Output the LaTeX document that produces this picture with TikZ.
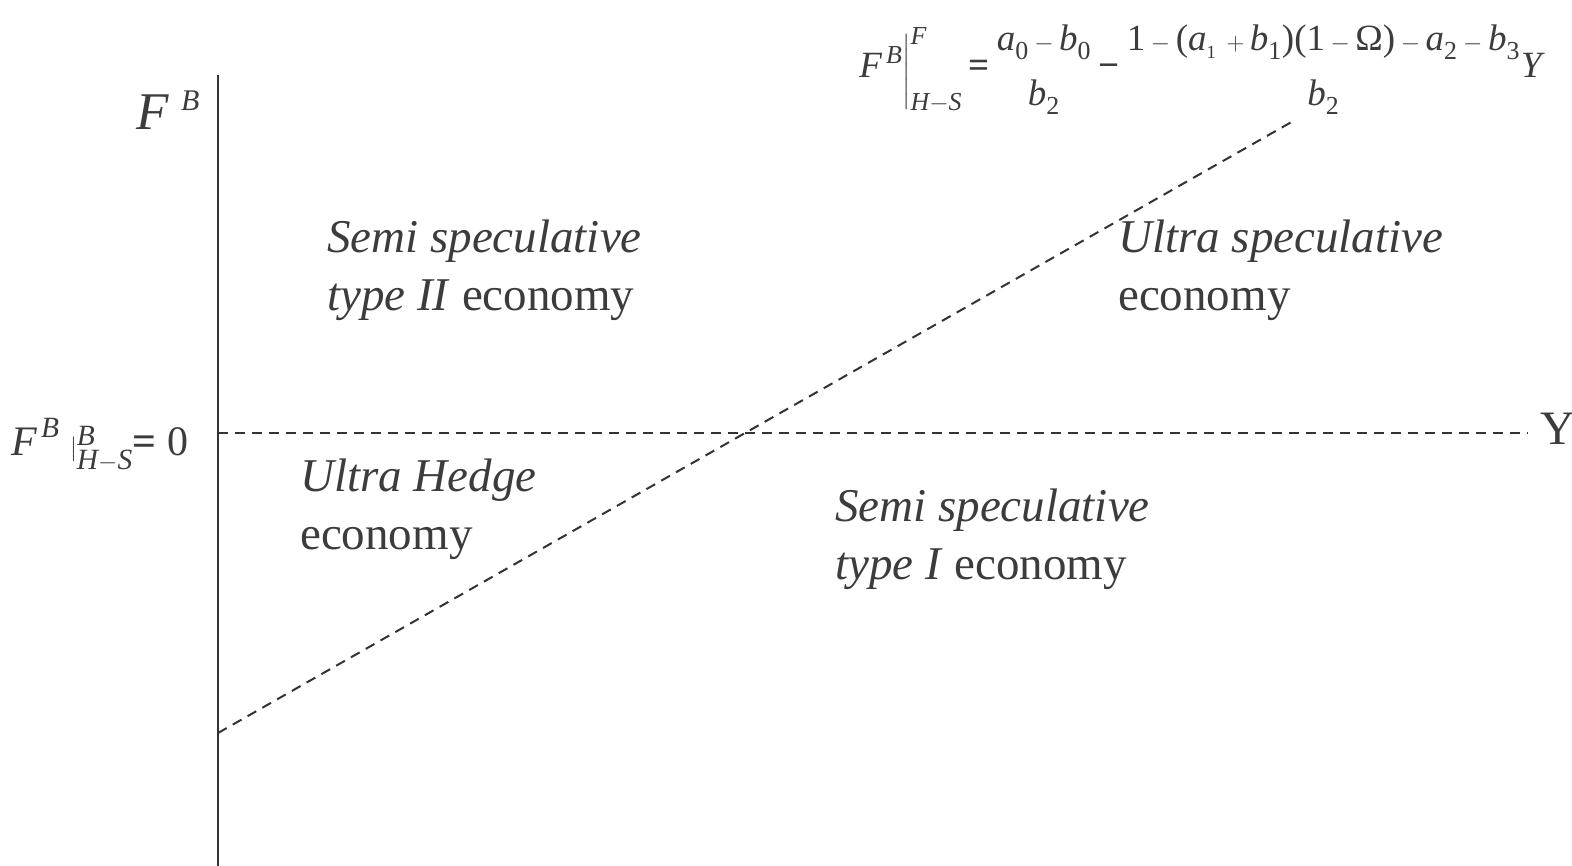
\documentclass[tikz,border=0pt]{standalone}
\usepackage{amsmath}
\usepackage{fontspec}
\setmainfont{Liberation Serif}
\newcommand\mi[1]{\textit{#1}}
\newcommand\tx[1]{\text{#1}}
\newcommand\nbfrac[2]{\genfrac{}{}{0pt}{0}{#1}{\rule{0pt}{39pt}#2}}
\definecolor{ink}{HTML}{333333}
\definecolor{txt}{HTML}{3C3C3C}
\tikzset{
  axis/.style={draw=ink, line width=2.6pt},
  dashln/.style={draw=ink, line width=2pt, dash pattern=on 10pt off 7pt},
  region/.style={text=txt, font=\fontsize{47}{57.5}\selectfont, align=left, anchor=north west, inner sep=0pt},
  lbl/.style={text=txt, inner sep=0pt},
}
\begin{document}
\begin{tikzpicture}[x=1pt,y=-1pt]
\useasboundingbox (0,0) rectangle (1572,866);
% axes
\coordinate (top) at (218,75);
\coordinate (bot) at (218,866);
\draw[axis] (top) -- (bot);
\coordinate (h0) at (218,433);
\coordinate (h1) at (1528,433);
\draw[dashln] (h0) -- (h1);
\coordinate (d0) at (218,733);
\coordinate (d1) at (1295,120);
\draw[dashln] (d0) -- (d1);
% labels
\node[lbl, font=\fontsize{53}{55}\selectfont, anchor=base west] (fb) at (136,130)
  {\mi{F}\kern12pt\raisebox{19pt}{\fontsize{30}{30}\selectfont\mi{B}}};
\node[lbl, font=\fontsize{42}{44}\selectfont, anchor=base east] (fz) at (189,455)
  {$\mi{F}^{\,\mi{B}}\ |^{\mi{B}}_{\mi{H}-\mi{S}}\tx{\bfseries=}\,\tx{\,0}$};
\node[lbl, font=\fontsize{48}{50}\selectfont, anchor=base west] (ylab) at (1540,445) {Y};
\node[lbl, font=\fontsize{37}{40}\selectfont, anchor=base east] (eq) at (1542,78)
  {$\mi{F}^{\,\mi{B}}\Bigg|^{\mi{F}}_{\mi{H}-\mi{S}}\tx{\bfseries\,=\,}\nbfrac{\mi{a}_{\tx{0}}-\mi{b}_{\tx{0}}}{\mi{b}_{\tx{2}}}\tx{\bfseries\,−\,}\nbfrac{\tx{1}-\tx{(}\mi{a}_{_{\tx{1}}}\,+\mi{b}_{\tx{1}}\tx{)(1}-\tx{Ω)}-\mi{a}_{\tx{2}}-\mi{b}_{\tx{3}}}{\mi{b}_{\tx{2}}}\mi{Y}$};
% regions
\node[region] (r1) at (327,220) {\textit{Semi speculative}\\\textit{type II} economy};
\node[region] (r2) at (1118,220) {\textit{Ultra speculative}\\economy};
\node[region] (r3) at (300,459) {\textit{Ultra Hedge}\\economy};
\node[region] (r4) at (835,489) {\textit{Semi speculative}\\\textit{type I} economy};
\end{tikzpicture}
\end{document}
